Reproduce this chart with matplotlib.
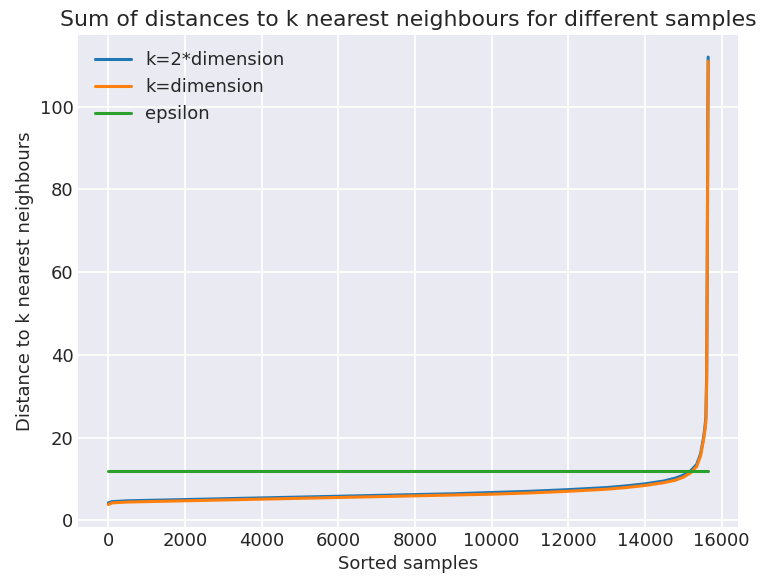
import matplotlib
matplotlib.use("Agg")
import matplotlib.pyplot as plt
import numpy as np

# sorted sample index and summed distances
idx_2k = [0, 100, 500, 1000, 2000, 3000, 4000, 5000, 6000, 7000, 8000, 9000,
          10000, 11000, 12000, 13000, 13500, 14000, 14500, 14800, 15000,
          15200, 15350, 15450, 15520, 15560, 15590, 15610, 15625, 15640, 15650]
dist_2k = [4.2, 4.5, 4.7, 4.8, 5.0, 5.2, 5.4, 5.6, 5.8, 6.0, 6.2, 6.4,
           6.7, 7.0, 7.4, 7.9, 8.3, 8.8, 9.5, 10.2, 10.9,
           12.0, 13.5, 16.0, 19.5, 22.0, 25.0, 35.0, 60.0, 95.0, 112.0]

idx_k = [0, 100, 500, 1000, 2000, 3000, 4000, 5000, 6000, 7000, 8000, 9000,
         10000, 11000, 12000, 13000, 13500, 14000, 14500, 14800, 15000,
         15200, 15350, 15450, 15520, 15560, 15590, 15610, 15625, 15640, 15650]
dist_k = [3.8, 4.2, 4.4, 4.5, 4.7, 4.9, 5.1, 5.3, 5.5, 5.7, 5.9, 6.1,
          6.3, 6.6, 7.0, 7.5, 7.9, 8.4, 9.1, 9.7, 10.4,
          11.5, 13.0, 15.5, 19.0, 21.5, 24.0, 33.0, 58.0, 93.0, 111.0]

eps_x = [0, 15650]
eps_y = [12.0, 12.0]

plt.style.use("seaborn-v0_8-darkgrid")
plt.rcParams.update({"font.family": "DejaVu Sans", "font.size": 13,
                     "grid.linewidth": 1.3})

fig, ax = plt.subplots(figsize=(7.61, 5.79), dpi=100)
ax.plot(idx_2k, dist_2k, lw=2.2, label="k=2*dimension")
ax.plot(idx_k, dist_k, lw=2.2, label="k=dimension")
ax.plot(eps_x, eps_y, lw=2.2, label="epsilon")

ax.set_title("Sum of distances to k nearest neighbours for different samples", fontsize=15.8)
ax.set_xlabel("Sorted samples", fontsize=13)
ax.set_ylabel("Distance to k nearest neighbours", fontsize=13)
ax.tick_params(labelsize=13)
ax.legend(loc="upper left", fontsize=13)

fig.subplots_adjust(left=0.103, right=0.97, top=0.94, bottom=0.09)
fig.savefig("out.png", dpi=100)
